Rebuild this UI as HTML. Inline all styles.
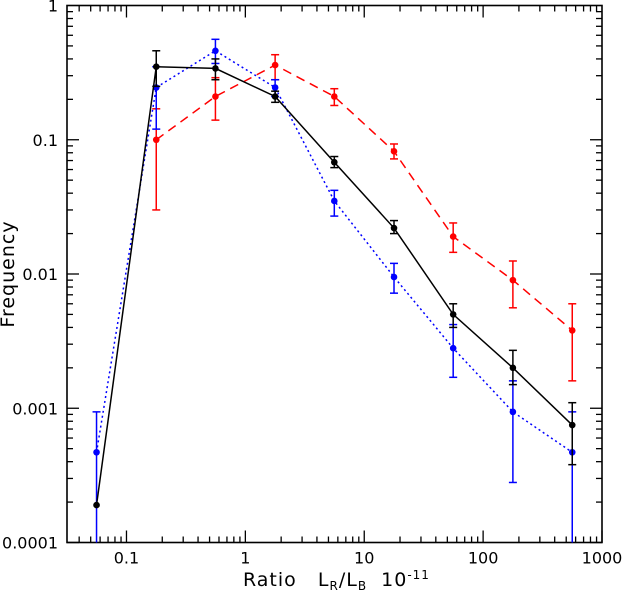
<!DOCTYPE html>
<html><head><meta charset="utf-8"><style>
body{margin:0;background:#fff;}
svg text{font-family:"DejaVu Sans","Liberation Sans",sans-serif;fill:#000;}
</style></head><body>
<svg id="chart" width="622" height="596" xmlns="http://www.w3.org/2000/svg">
<g id="g"></g>
</svg>
<script>
const xs=[0.056,0.178,0.56,1.78,5.6,17.8,56,178,562];
const blackY=[0.00019,0.35,0.34,0.21,0.068,0.022,0.005,0.002,0.00075];
const blackLo=[0.00019,0.25,0.28,0.19,0.062,0.02,0.004,0.0015,0.00038];
const blackHi=[0.00019,0.46,0.40,0.23,0.075,0.025,0.006,0.0027,0.0011];
const blueY=[0.00047,0.245,0.46,0.245,0.035,0.0095,0.0028,0.00094,0.00047];
const blueLo=[0.0001,0.12,0.37,0.21,0.027,0.0072,0.0017,0.00028,0.0001];
const blueHi=[0.00094,0.35,0.56,0.28,0.042,0.012,0.0042,0.0016,0.00094];
const redX=[0.178,0.56,1.78,5.6,17.8,56,178,562];
const redY=[0.1,0.21,0.36,0.21,0.082,0.019,0.009,0.0038];
const redLo=[0.03,0.14,0.28,0.18,0.072,0.0145,0.0056,0.0016];
const redHi=[0.17,0.29,0.43,0.24,0.093,0.024,0.0125,0.006];
const xTicks=[0.1,1,10,100,1000];
const xTickLabels=["0.1","1","10","100","1000"];
const yTicks=[1,0.1,0.01,0.001,0.0001];
const yTickLabels=["1","0.1","0.01","0.001","0.0001"];

const L=67,R=602,T=5.5,B=542.5;
const xmin=Math.log10(0.0316),xmax=3,ymin=-4,ymax=0;
const X=v=>L+(Math.log10(v)-xmin)/(xmax-xmin)*(R-L);
const Y=v=>B-(Math.log10(v)-ymin)/(ymax-ymin)*(B-T);
const g=document.getElementById('g');
const NS='http://www.w3.org/2000/svg';
function mk(t,a){const e=document.createElementNS(NS,t);for(const k in a)e.setAttribute(k,a[k]);g.appendChild(e);return e;}

const fr=mk('rect',{x:L,y:T,width:R-L,height:B-T,fill:'none',stroke:'#000','stroke-width':1.6});


for(let d=-2;d<=2;d++){for(let m=1;m<10;m++){const v=m*Math.pow(10,d);const lv=Math.log10(v);if(lv<xmin||lv>xmax)continue;const x=X(v);const len=m==1?12:6;
mk('line',{x1:x,y1:B,x2:x,y2:B-len,stroke:'#000','stroke-width':1.3});
mk('line',{x1:x,y1:T,x2:x,y2:T+len,stroke:'#000','stroke-width':1.3});}}
mk('line',{x1:R,y1:B,x2:R,y2:B-12,stroke:'#000','stroke-width':1.3});
xTicks.forEach((v,i)=>{const t=mk('text',{x:X(v),y:B+21,'font-size':16,'text-anchor':'middle'});t.textContent=xTickLabels[i];

});
for(let d=-4;d<0;d++){for(let m=1;m<10;m++){const v=m*Math.pow(10,d);const y=Y(v);const len=m==1?12:6;
mk('line',{x1:L,y1:y,x2:L+len,y2:y,stroke:'#000','stroke-width':1.3});
mk('line',{x1:R,y1:y,x2:R-len,y2:y,stroke:'#000','stroke-width':1.3});}}
yTicks.forEach((v,i)=>{const t=mk('text',{x:58,y:Y(v)+6,'font-size':16,'text-anchor':'end'});t.textContent=yTickLabels[i];

});

function series(name,xv,yv,lo,hi,color,dash){
  const pts=xv.map((x,i)=>X(x)+','+Y(yv[i])).join(' ');
  const pl=mk('polyline',{points:pts,fill:'none',stroke:color,'stroke-width':1.5,'stroke-dasharray':dash});
  
  
  xv.forEach((x,i)=>{const cx=X(x);const y1=Math.min(Y(lo[i]),B),y2=Y(hi[i]);
    if(lo[i]!==hi[i]){
    mk('line',{x1:cx,y1:y1,x2:cx,y2:y2,stroke:color,'stroke-width':1.5});
    if(Y(lo[i])<B)mk('line',{x1:cx-4,y1:y1,x2:cx+4,y2:y1,stroke:color,'stroke-width':1.5});
    mk('line',{x1:cx-4,y1:y2,x2:cx+4,y2:y2,stroke:color,'stroke-width':1.5});}
    const c=mk('circle',{cx:cx,cy:Y(yv[i]),r:3.3,fill:color});
    
    
  });
}
series('red-series',redX,redY,redLo,redHi,'#f00','9,6');
series('blue-series',xs,blueY,blueLo,blueHi,'#00f','2,3');
series('black-series',xs,blackY,blackLo,blackHi,'#000','none');
</script>
<svg width="622" height="596" style="position:absolute;left:0;top:0" xmlns="http://www.w3.org/2000/svg">
<text transform="translate(14,274) rotate(-90)" text-anchor="middle" font-size="19" letter-spacing="1" style="font-family:'DejaVu Sans',sans-serif">Frequency</text>
<text x="243" y="586" font-size="19" letter-spacing="1" xml:space="preserve" style="font-family:'DejaVu Sans',sans-serif;white-space:pre">Ratio   L<tspan font-size="12" dy="4">R</tspan><tspan dy="-4">/L</tspan><tspan font-size="12" dy="4">B</tspan><tspan dy="-4">  10</tspan><tspan font-size="12" dy="-7">-11</tspan></text>
</svg>
</body></html>
